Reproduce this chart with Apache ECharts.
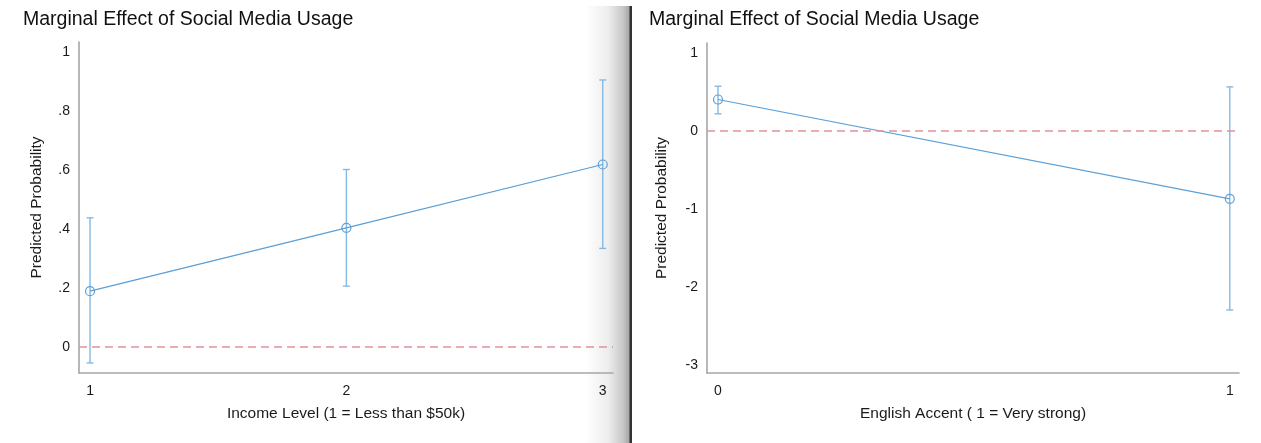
<!DOCTYPE html>
<html>
<head>
<meta charset="utf-8">
<title>Marginal Effect of Social Media Usage</title>
<script src="https://cdn.jsdelivr.net/npm/echarts@6/dist/echarts.min.js"></script>
<style>
  html, body { margin: 0; padding: 0; background: #ffffff; }
  #chart { width: 1261px; height: 443px; }
</style>
</head>
<body>
<div id="chart"></div>
<script>
// Panel 1: income level
const incomeLevels = [1, 2, 3];
const incomeEffect = [0.19, 0.405, 0.62];
const incomeLower = [-0.054, 0.207, 0.335];
const incomeUpper = [0.439, 0.603, 0.907];
const incomeYTicks = [0, 0.2, 0.4, 0.6, 0.8, 1];
const incomeXTicks = [1, 2, 3];

// Panel 2: English accent
const accentLevels = [0, 1];
const accentEffect = [0.406, -0.866];
const accentLower = [0.223, -2.29];
const accentUpper = [0.576, 0.568];
const accentYTicks = [-3, -2, -1, 0, 1];
const accentXTicks = [0, 1];

const panelTitle = 'Marginal Effect of Social Media Usage';
const yTitle = 'Predicted Probability';
const incomeXTitle = 'Income Level (1 = Less than $50k)';
const accentXTitle = 'English Accent ( 1 = Very strong)';

const FONT = "'Liberation Sans', Arial, Helvetica, sans-serif";
const LINE_BLUE = '#5b9fd6';
const BAR_BLUE = '#86b9e2';
const ZERO_RED = '#e3909a';
const AXIS_GRAY = '#a6a6a6';

// Stata-style numbers: .2 instead of 0.2
function stataNum(v) {
  let s = String(+(+v).toFixed(2));
  return s.replace(/^0\./, '.').replace(/^-0\./, '-.');
}

function points(xs, ys) { return xs.map((x, i) => [x, ys[i]]); }
function ranges(xs, lo, hi) { return xs.map((x, i) => [x, lo[i], hi[i]]); }

// vertical capped interval
function errorBarRenderer(params, api) {
  const x = api.value(0);
  const top = api.coord([x, api.value(2)]);
  const bot = api.coord([x, api.value(1)]);
  const cap = 3.5;
  const style = { stroke: BAR_BLUE, lineWidth: 1.4, fill: null };
  return {
    type: 'group',
    children: [
      { type: 'line', shape: { x1: top[0], y1: top[1], x2: bot[0], y2: bot[1] }, style },
      { type: 'line', shape: { x1: top[0] - cap, y1: top[1], x2: top[0] + cap, y2: top[1] }, style },
      { type: 'line', shape: { x1: bot[0] - cap, y1: bot[1], x2: bot[0] + cap, y2: bot[1] }, style }
    ]
  };
}

function xAxisFor(gridIndex, min, max, ticks, name) {
  return {
    type: 'value', gridIndex, min, max,
    splitLine: { show: false },
    axisTick: { show: false },
    axisLine: { show: true, onZero: false, lineStyle: { color: AXIS_GRAY, width: 1.6 } },
    axisLabel: { customValues: ticks, formatter: stataNum, color: '#1a1a1a', fontFamily: FONT, fontSize: 14, margin: 11 },
    name, nameLocation: 'middle', nameGap: 33,
    nameTextStyle: { color: '#1a1a1a', fontFamily: FONT, fontSize: 15.5 }
  };
}

function yAxisFor(gridIndex, min, max, ticks, gap) {
  return {
    type: 'value', gridIndex, min, max,
    splitLine: { show: false },
    axisTick: { show: false },
    axisLine: { show: true, onZero: false, lineStyle: { color: AXIS_GRAY, width: 1.6 } },
    axisLabel: { customValues: ticks, formatter: stataNum, color: '#1a1a1a', fontFamily: FONT, fontSize: 14, margin: 9 },
    name: yTitle, nameLocation: 'middle', nameGap: gap,
    nameTextStyle: { color: '#1a1a1a', fontFamily: FONT, fontSize: 15.5 }
  };
}

function effectSeries(idx, xs, ys) {
  return {
    type: 'line', xAxisIndex: idx, yAxisIndex: idx, z: 3,
    data: points(xs, ys),
    symbol: 'circle', symbolSize: 9,
    lineStyle: { color: LINE_BLUE, width: 1.2 },
    itemStyle: { color: 'rgba(0,0,0,0)', borderColor: LINE_BLUE, borderWidth: 1.2 },
    emphasis: { disabled: true },
    markLine: {
      silent: true, symbol: 'none', label: { show: false },
      lineStyle: { color: ZERO_RED, width: 1.5, type: [8, 5] },
      data: [{ yAxis: 0 }]
    }
  };
}

function intervalSeries(idx, xs, lo, hi) {
  return {
    type: 'custom', xAxisIndex: idx, yAxisIndex: idx, z: 2,
    data: ranges(xs, lo, hi),
    encode: { x: 0, y: [1, 2] },
    renderItem: errorBarRenderer
  };
}

const chart = echarts.init(document.getElementById('chart'), null, { renderer: 'canvas' });

chart.setOption({
  animation: false,
  backgroundColor: '#ffffff',
  title: [
    { text: panelTitle, left: 18, top: 5, textStyle: { color: '#111', fontFamily: FONT, fontSize: 19.5, fontWeight: 'normal' } },
    { text: panelTitle, left: 644, top: 5, textStyle: { color: '#111', fontFamily: FONT, fontSize: 19.5, fontWeight: 'normal' } }
  ],
  graphic: [
    // shaded edge and divider between the two panels
    {
      type: 'rect', z: -1, silent: true,
      shape: { x: 585, y: 6, width: 45, height: 437 },
      style: {
        fill: new echarts.graphic.LinearGradient(0, 0, 1, 0, [
          { offset: 0, color: 'rgba(170,170,170,0)' },
          { offset: 0.5, color: 'rgba(170,170,170,0.2)' },
          { offset: 0.85, color: 'rgba(160,160,160,0.6)' },
          { offset: 1, color: 'rgba(150,150,150,0.9)' }
        ])
      }
    },
    {
      type: 'rect', z: -1, silent: true,
      shape: { x: 629.5, y: 6, width: 2.5, height: 437 },
      style: { fill: '#333333' }
    }
  ],
  grid: [
    { left: 79, top: 42, width: 534, height: 331 },
    { left: 707, top: 43, width: 532, height: 330 }
  ],
  xAxis: [
    xAxisFor(0, 0.957, 3.04, incomeXTicks, incomeXTitle),
    xAxisFor(1, -0.0215, 1.018, accentXTicks, accentXTitle)
  ],
  yAxis: [
    yAxisFor(0, -0.088, 1.036, incomeYTicks, 34),
    yAxisFor(1, -3.097, 1.13, accentYTicks, 37)
  ],
  series: [
    intervalSeries(0, incomeLevels, incomeLower, incomeUpper),
    effectSeries(0, incomeLevels, incomeEffect),
    intervalSeries(1, accentLevels, accentLower, accentUpper),
    effectSeries(1, accentLevels, accentEffect)
  ]
});
</script>
</body>
</html>
